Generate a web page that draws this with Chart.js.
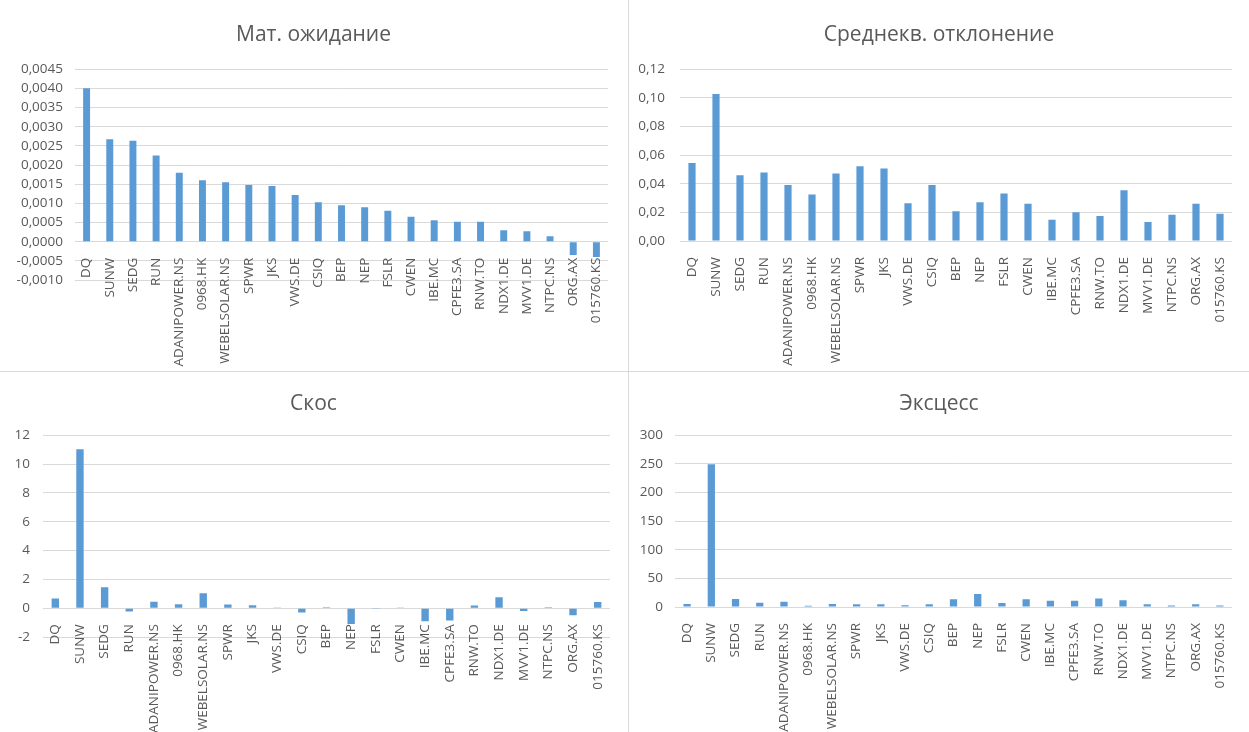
<!DOCTYPE html>
<html>
<head>
<meta charset="utf-8">
<script src="https://cdn.jsdelivr.net/npm/chart.js@4"></script>
<style>
  body { margin: 0; background: #fff; width: 1249px; height: 732px; position: relative; overflow: hidden; }
  canvas { position: absolute; }
  .vline { position: absolute; left: 628px; top: 0; width: 1px; height: 732px; background: #d9d9d9; }
  .hline { position: absolute; left: 0; top: 371px; width: 1249px; height: 1px; background: #d9d9d9; }
</style>
</head>
<body>
<canvas id="meanChart" width="627" height="371" style="left:0;top:0"></canvas>
<canvas id="stdChart" width="620" height="371" style="left:629px;top:0"></canvas>
<canvas id="skewChart" width="627" height="359" style="left:0;top:373px"></canvas>
<canvas id="kurtChart" width="620" height="359" style="left:629px;top:373px"></canvas>
<div class="vline"></div>
<div class="hline"></div>
<script>
// tickers, same order on all four charts
var tickers = ["DQ", "SUNW", "SEDG", "RUN", "ADANIPOWER.NS", "0968.HK", "WEBELSOLAR.NS", "SPWR", "JKS", "VWS.DE", "CSIQ",
    "BEP", "NEP", "FSLR", "CWEN", "IBE.MC", "CPFE3.SA", "RNW.TO", "NDX1.DE", "MVV1.DE", "NTPC.NS", "ORG.AX", "015760.KS"];

// Мат. ожидание
var meanValues = [0.0040, 0.00267, 0.00263, 0.00225, 0.0018, 0.0016, 0.00155, 0.00148, 0.00145, 0.00122, 0.00103,
    0.00095, 0.0009, 0.00081, 0.00065, 0.00056, 0.00052, 0.00052, 0.0003, 0.00027, 0.00014, -0.00035, -0.0004];

// Среднекв. отклонение
var stdValues = [0.0545, 0.1026, 0.0459, 0.0478, 0.0392, 0.0324, 0.0471, 0.0522, 0.0506, 0.0263, 0.0392,
    0.0207, 0.027, 0.0331, 0.0261, 0.0149, 0.0200, 0.0175, 0.0354, 0.0133, 0.0184, 0.0261, 0.0191];

// Скос
var skewValues = [0.67, 11.03, 1.46, -0.23, 0.44, 0.28, 1.04, 0.25, 0.2, 0.02, -0.3,
    0.07, -1.1, -0.02, 0.05, -0.9, -0.85, 0.18, 0.76, -0.2, 0.07, -0.49, 0.42];

// Эксцесс
var kurtValues = [5.2, 249.4, 14, 7.6, 9.3, 2.3, 5.2, 5, 5, 3, 5,
    13.4, 22.7, 7, 13.4, 11, 11, 15, 11.6, 5, 2.5, 5, 2.5];

var barColor = "#5B9BD5";
var textColor = "#595959";
var gridColor = "#d9d9d9";
var fontFamily = "'Open Sans', 'Noto Sans', sans-serif";

function makeChart(id, title, values, yOpts, box) {
    return new Chart(document.getElementById(id), {
        type: "bar",
        data: {
            labels: tickers,
            datasets: [{
                data: values,
                backgroundColor: barColor,
                barPercentage: 0.3,
                categoryPercentage: 1
            }]
        },
        options: {
            responsive: false,
            animation: false,
            devicePixelRatio: 1,
            layout: { padding: { left: 0, right: 0, top: 0, bottom: box.bottom } },
            plugins: {
                legend: { display: false },
                tooltip: { enabled: false },
                title: {
                    display: true,
                    text: title,
                    color: textColor,
                    font: { family: fontFamily, size: 21, weight: "normal", lineHeight: 1.2 },
                    padding: { top: box.titleTop, bottom: box.titleBottom }
                }
            },
            scales: {
                x: {
                    position: { y: 0 },
                    grid: { display: false },
                    border: { display: false },
                    ticks: {
                        autoSkip: false,
                        minRotation: 90,
                        maxRotation: 90,
                        padding: 8,
                        color: textColor,
                        font: { family: fontFamily, size: 13.5 }
                    }
                },
                y: {
                    min: yOpts.min,
                    max: yOpts.max,
                    afterFit: function (scale) { scale.width = box.left; },
                    grid: { color: gridColor, drawTicks: false },
                    border: { display: false },
                    ticks: {
                        stepSize: yOpts.step,
                        maxTicksLimit: 20,
                        autoSkip: false,
                        padding: box.tickPad,
                        color: textColor,
                        font: { family: fontFamily, size: 13.5 },
                        callback: function (v) {
                            var s = Math.abs(v) < 1e-9 ? (0).toFixed(yOpts.dec) : v.toFixed(yOpts.dec);
                            return s.replace(".", ",");
                        }
                    }
                },
                // empty axis on the right, only keeps the right margin (title stays centred)
                yRight: {
                    type: "linear",
                    position: "right",
                    grid: { display: false },
                    border: { display: false },
                    ticks: { display: false },
                    afterFit: function (scale) { scale.width = box.right; }
                }
            }
        }
    });
}

makeChart("meanChart", "Мат. ожидание", meanValues,
    { min: -0.001, max: 0.0045, step: 0.0005, dec: 4 },
    { left: 75, right: 19, bottom: 91, titleTop: 22, titleBottom: 22, tickPad: 12 });

makeChart("stdChart", "Среднекв. отклонение", stdValues,
    { min: 0, max: 0.12, step: 0.02, dec: 2 },
    { left: 51, right: 17, bottom: 130, titleTop: 22, titleBottom: 22, tickPad: 15 });

makeChart("skewChart", "Скос", skewValues,
    { min: -2, max: 12, step: 2, dec: 0 },
    { left: 43, right: 17, bottom: 95, titleTop: 18, titleBottom: 19, tickPad: 13 });

makeChart("kurtChart", "Эксцесс", kurtValues,
    { min: 0, max: 300, step: 50, dec: 0 },
    { left: 46, right: 17, bottom: 125, titleTop: 18, titleBottom: 19, tickPad: 12 });
</script>
</body>
</html>
